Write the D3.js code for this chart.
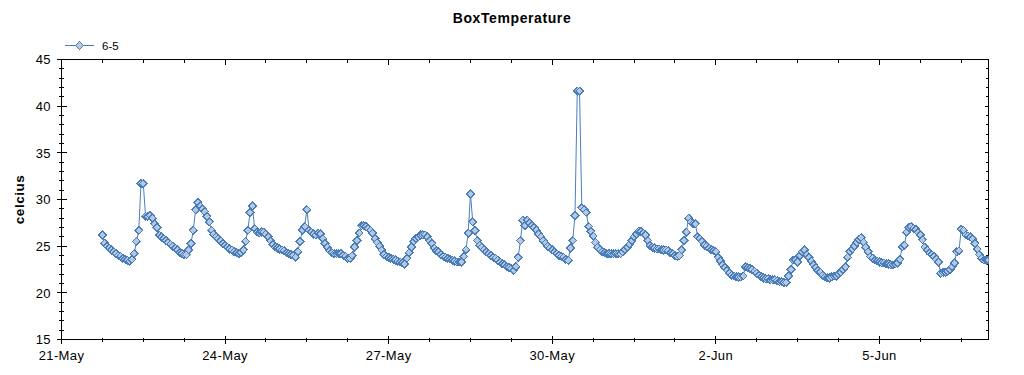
<!DOCTYPE html>
<html><head><meta charset="utf-8">
<script src="https://cdn.jsdelivr.net/npm/d3@7"></script>
<style>
html,body{margin:0;padding:0;background:#fff;}
svg{display:block;font-family:"Liberation Sans",Arial,sans-serif;}
</style>
</head><body>
<svg id="chart" width="1024" height="375"></svg>
<script>
// ---- data (hourly readings, first reading 21-May 18:00) ----
const title = "BoxTemperature";
const yLabel = "celcius";
const seriesName = "6-5";
const firstReading = "2020-05-21T18:00:00";
const may21 = [26.2, 25.3, 25.0, 24.8, 24.6, 24.4];
const may22 = [24.2, 24.0, 23.9, 23.7, 23.6, 23.5, 23.4, 23.6, 24.2, 25.5, 26.7, 31.7, 31.7, 28.2, 28.2, 28.3, 28.0, 27.4, 27.0, 26.2, 26.0, 25.8, 25.6, 25.4];
const may23 = [25.2, 25.0, 24.8, 24.6, 24.3, 24.2, 24.1, 24.1, 24.6, 25.3, 26.7, 28.9, 29.7, 29.3, 29.0, 28.7, 28.2, 27.6, 26.7, 26.3, 26.0, 25.8, 25.6, 25.3];
const may24 = [25.1, 24.9, 24.7, 24.6, 24.4, 24.3, 24.2, 24.3, 24.6, 25.5, 26.7, 28.6, 29.3, 26.9, 26.5, 26.4, 26.5, 26.5, 26.3, 26.0, 25.6, 25.2, 24.9, 24.8];
const may25 = [24.7, 24.6, 24.5, 24.3, 24.2, 24.1, 24.0, 23.8, 24.4, 25.5, 26.7, 27.1, 28.9, 26.7, 26.5, 26.3, 26.2, 26.4, 26.3, 25.8, 25.3, 24.9, 24.5, 24.3];
const may26 = [24.2, 24.2, 24.2, 24.2, 24.0, 23.9, 23.7, 23.7, 24.0, 24.9, 25.6, 26.4, 27.2, 27.2, 27.1, 26.9, 26.7, 26.4, 25.8, 25.4, 25.0, 24.6, 24.1, 23.9];
const may27 = [23.8, 23.7, 23.6, 23.5, 23.4, 23.3, 23.2, 23.1, 23.7, 24.3, 24.9, 25.5, 25.8, 26.0, 26.2, 26.2, 26.2, 26.0, 25.6, 25.3, 24.8, 24.5, 24.4, 24.1];
const may28 = [23.9, 23.8, 23.7, 23.6, 23.5, 23.4, 23.3, 23.3, 23.3, 23.9, 24.6, 26.4, 30.6, 27.6, 26.7, 25.6, 25.1, 24.9, 24.6, 24.4, 24.2, 24.0, 23.8, 23.7];
const may29 = [23.5, 23.3, 23.1, 23.0, 22.8, 22.7, 22.6, 22.4, 22.8, 23.8, 25.6, 27.8, 27.2, 27.8, 27.5, 27.2, 27.0, 26.7, 26.3, 26.0, 25.6, 25.3, 25.0, 24.8];
const may30 = [24.6, 24.4, 24.2, 24.0, 23.9, 23.8, 23.6, 23.5, 24.8, 25.6, 28.3, 41.6, 41.6, 29.1, 28.9, 28.6, 27.1, 26.6, 26.1, 25.4, 24.9, 24.6, 24.4, 24.3];
const may31 = [24.2, 24.2, 24.2, 24.2, 24.2, 24.2, 24.2, 24.4, 24.6, 24.9, 25.2, 25.6, 26.0, 26.3, 26.6, 26.6, 26.4, 26.2, 25.6, 25.1, 24.9, 24.8, 24.7, 24.7];
const jun1 = [24.6, 24.6, 24.6, 24.5, 24.3, 24.2, 24.0, 23.9, 24.0, 24.6, 25.6, 26.5, 28.0, 27.6, 27.4, 27.4, 26.0, 25.8, 25.5, 25.1, 25.0, 24.8, 24.6, 24.5];
const jun2 = [24.4, 23.8, 23.4, 23.0, 22.7, 22.4, 22.1, 21.9, 21.8, 21.7, 21.7, 21.7, 21.8, 22.8, 22.7, 22.6, 22.5, 22.3, 22.1, 21.9, 21.7, 21.6, 21.5, 21.5];
const jun3 = [21.4, 21.4, 21.4, 21.3, 21.2, 21.2, 21.1, 21.1, 21.8, 22.5, 23.5, 23.5, 23.3, 24.0, 24.4, 24.6, 24.1, 23.8, 23.4, 23.0, 22.7, 22.4, 22.2, 21.9];
const jun4 = [21.7, 21.6, 21.6, 21.7, 21.8, 21.8, 22.0, 22.2, 22.5, 22.8, 23.8, 24.4, 24.7, 25.0, 25.4, 25.7, 25.9, 25.4, 24.9, 24.4, 23.9, 23.7, 23.5, 23.4];
const jun5 = [23.3, 23.2, 23.2, 23.1, 23.1, 23.0, 23.0, 23.1, 23.2, 23.6, 24.9, 25.1, 26.5, 27.0, 27.1, 26.9, 26.8, 26.5, 26.2, 25.7, 24.9, 24.6, 24.3, 24.1];
const jun6 = [23.9, 23.6, 23.3, 22.1, 22.2, 22.2, 22.3, 22.5, 22.8, 23.2, 24.4, 24.5, 26.8, 26.7, 26.2, 26.1, 26.0, 25.8, 25.3, 24.7, 24.1, 23.7, 23.5, 23.5];
const jun7 = [23.5];

const xDomain = ["2020-05-21T00:00:00", "2020-06-07T00:00:00"];
const xTickLabels = ["21-May", "24-May", "27-May", "30-May", "2-Jun", "5-Jun"];
const xTickDates = ["2020-05-21", "2020-05-24", "2020-05-27", "2020-05-30", "2020-06-02", "2020-06-05"];
const yTicks = [15, 20, 25, 30, 35, 40, 45];

// ---- build ----
const values = [].concat(may21, may22, may23, may24, may25, may26, may27, may28, may29, may30, may31,
  jun1, jun2, jun3, jun4, jun5, jun6, jun7);
const parse = s => new Date(s.length === 10 ? s + "T00:00:00" : s);
const t0 = parse(firstReading);
const data = values.map((v, i) => ({ t: d3.timeHour.offset(t0, i), v }));

const svg = d3.select("#chart");
const L = 61.5, R = 988.5, T = 59.5, B = 339.5;
const x = d3.scaleTime().domain(xDomain.map(parse)).range([L, R]);
const y = d3.scaleLinear().domain([15, 45]).range([B, T]);

const color = "#4a7ebb", fillC = "#b4c8df";

// title
svg.append("text").attr("x", 512).attr("y", 23).attr("text-anchor", "middle")
  .attr("font-size", 14).attr("font-weight", "bold").attr("letter-spacing", 0.6)
  .attr("fill", "#000").text(title);

// y label
svg.append("text").attr("transform", `translate(24,${(T + B) / 2}) rotate(-90)`)
  .attr("text-anchor", "middle").attr("font-size", 13.5).attr("font-weight", "bold")
  .attr("letter-spacing", 0.5).text(yLabel);

const ax = svg.append("g").attr("stroke", "#000").attr("stroke-width", 1).attr("shape-rendering", "crispEdges");
ax.append("rect").attr("x", L).attr("y", T).attr("width", R - L).attr("height", B - T).attr("fill", "none");

// y ticks
const yMinor = d3.range(15, 45.01, 1).filter(v => v % 5 !== 0);
yTicks.forEach(v => {
  const p = Math.round(y(v) - 0.5) + 0.5;
  ax.append("line").attr("x1", L - 5).attr("x2", L + 5).attr("y1", p).attr("y2", p);
  ax.append("line").attr("x1", R - 4).attr("x2", R).attr("y1", p).attr("y2", p);
});
yMinor.forEach(v => {
  const p = Math.round(y(v) - 0.5) + 0.5;
  ax.append("line").attr("x1", L - 2.5).attr("x2", L + 2.5).attr("y1", p).attr("y2", p);
  ax.append("line").attr("x1", R - 2.5).attr("x2", R).attr("y1", p).attr("y2", p);
});
svg.append("g").selectAll("text").data(yTicks).join("text")
  .attr("x", 51).attr("y", d => y(d)).attr("dy", "0.36em").attr("text-anchor", "end")
  .attr("font-size", 13).attr("letter-spacing", 0.4).text(d => d);

// x ticks
const xMajor = xTickDates.map(parse);
const xMinor = d3.range(0, 17, 0.75).filter(k => k % 3 !== 0)
  .map(k => d3.timeMinute.offset(parse(xDomain[0]), Math.round(k * 1440)));
xMajor.forEach(d => {
  const p = Math.round(x(d) - 0.5) + 0.5;
  ax.append("line").attr("x1", p).attr("x2", p).attr("y1", B - 4).attr("y2", B + 4);
  ax.append("line").attr("x1", p).attr("x2", p).attr("y1", T).attr("y2", T + 5);
});
xMinor.forEach(d => {
  const p = Math.round(x(d) - 0.5) + 0.5;
  ax.append("line").attr("x1", p).attr("x2", p).attr("y1", B - 2).attr("y2", B + 2);
  ax.append("line").attr("x1", p).attr("x2", p).attr("y1", T).attr("y2", T + 3);
});
svg.append("g").selectAll("text").data(xMajor).join("text")
  .attr("x", d => x(d)).attr("y", 360).attr("text-anchor", "middle")
  .attr("font-size", 13).attr("letter-spacing", 0.4).text((d, i) => xTickLabels[i]);

// clip
svg.append("clipPath").attr("id", "plotclip").append("rect")
  .attr("x", L).attr("y", T).attr("width", R - L).attr("height", B - T);

const plot = svg.append("g").attr("clip-path", "url(#plotclip)");
const line = d3.line().x(d => x(d.t)).y(d => y(d.v));
plot.append("path").datum(data).attr("d", line).attr("fill", "none")
  .attr("stroke", color).attr("stroke-width", 1);

const sym = d3.symbol().type(d3.symbolSquare).size(30);
plot.append("g").selectAll("path").data(data).join("path")
  .attr("transform", d => `translate(${x(d.t)},${y(d.v)}) rotate(45)`)
  .attr("d", sym).attr("fill", fillC).attr("stroke", color).attr("stroke-width", 1.2)
  .attr("shape-rendering", "crispEdges");

// legend
const lg = svg.append("g");
lg.append("line").attr("x1", 65).attr("x2", 94).attr("y1", 45.5).attr("y2", 45.5)
  .attr("stroke", color).attr("stroke-width", 1);
lg.append("path").attr("transform", "translate(79.5,45.5) rotate(45)").attr("d", sym)
  .attr("fill", fillC).attr("stroke", color).attr("stroke-width", 1.2)
  .attr("shape-rendering", "crispEdges");
lg.append("text").attr("x", 102).attr("y", 50).attr("font-size", 11.5).text(seriesName);
</script>
</body></html>
